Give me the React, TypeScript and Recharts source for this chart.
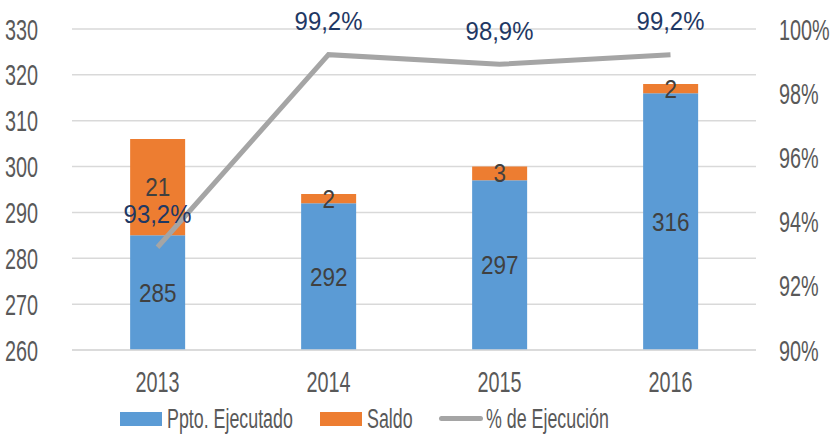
import React from "react";
import {
  ComposedChart,
  CartesianGrid,
  XAxis,
  YAxis,
  Bar,
  Line,
  LabelList,
  Legend,
} from "recharts";

const years = ["2013", "2014", "2015", "2016"];
const ejecutado = [285, 292, 297, 316];
const saldo = [21, 2, 3, 2];
const ejecucion = [93.2, 99.2, 98.9, 99.2];

const leftTicks = [260, 270, 280, 290, 300, 310, 320, 330];
const rightTicks = [90, 92, 94, 96, 98, 100];

const FONT = "'Liberation Sans', Arial, sans-serif";
const AXIS_SCALE = 0.66;
const LEGEND_SIZE = 27;

const data = years.map((y, i) => ({
  year: y,
  ejecutado: ejecutado[i],
  saldo: saldo[i],
  pct: ejecucion[i],
}));

const legendItems = [
  { label: "Ppto. Ejecutado", color: "#5B9BD5", kind: "rect" },
  { label: "Saldo", color: "#ED7D31", kind: "rect" },
  { label: "% de Ejecución", color: "#A5A5A5", kind: "line" },
];

// the original is set in a narrow face, so squeeze the text horizontally
function NText({ x, y, anchor = "middle", size = 30, sx = AXIS_SCALE, fill = "#595959", children }: any) {
  return (
    <text
      transform={`translate(${x},${y}) scale(${sx},1)`}
      textAnchor={anchor}
      dominantBaseline="central"
      fontFamily={FONT}
      fontSize={size}
      fill={fill}
    >
      {children}
    </text>
  );
}

const makeTick = (anchor: string, dx: number, dy: number, fmt = (v: any) => String(v)) =>
  (props: any) => (
    <NText x={props.x + dx} y={props.y + dy} anchor={anchor}>
      {fmt(props.payload.value)}
    </NText>
  );

const centerLabel = (props: any) => {
  const { x, y, width, height, value } = props;
  return (
    <NText x={x + width / 2} y={y + height / 2} size={25} sx={0.9} fill="#404040">
      {value}
    </NText>
  );
};

const pctLabel = (props: any) => {
  const { x, y, value } = props;
  return (
    <NText x={x} y={y - 34} size={26} sx={0.92} fill="#1F3864">
      {`${String(value).replace(".", ",")}%`}
    </NText>
  );
};

let ctx: CanvasRenderingContext2D | null = null;
function textWidth(s: string) {
  if (!ctx) ctx = document.createElement("canvas").getContext("2d");
  if (!ctx) return s.length * 12;
  ctx.font = `${LEGEND_SIZE}px ${FONT}`;
  return ctx.measureText(s).width;
}

function LegendBox() {
  return (
    <div
      style={{
        display: "flex",
        alignItems: "center",
        paddingLeft: 120,
        fontFamily: FONT,
        fontSize: LEGEND_SIZE,
        color: "#595959",
        gap: 27,
        height: 33,
      }}
    >
      {legendItems.map((it) => (
        <div key={it.label} style={{ display: "flex", alignItems: "center" }}>
          {it.kind === "rect" ? (
            <span style={{ width: 42, height: 14, background: it.color, marginRight: 5 }} />
          ) : (
            <span
              style={{
                width: 44,
                height: 5,
                borderRadius: 3,
                background: it.color,
                marginRight: 3,
              }}
            />
          )}
          <span style={{ width: textWidth(it.label) * AXIS_SCALE, whiteSpace: "nowrap", lineHeight: "30px" }}>
            <span style={{ display: "inline-block", transform: `scaleX(${AXIS_SCALE})`, transformOrigin: "left center" }}>
              {it.label}
            </span>
          </span>
        </div>
      ))}
    </div>
  );
}

export default function App() {
  return (
    <div style={{ position: "absolute", left: 0, top: 0, background: "#fff" }}>
      <ComposedChart
        width={835}
        height={435}
        data={data}
        barCategoryGap="34%"
        margin={{ top: 29, right: 0, left: 0, bottom: 0 }}
      >
        <CartesianGrid yAxisId="left" vertical={false} stroke="#D9D9D9" strokeWidth={1.5} />
        <XAxis
          dataKey="year"
          height={52}
          tickLine={false}
          axisLine={{ stroke: "#D9D9D9", strokeWidth: 1.5 }}
          tick={makeTick("middle", 0, 23)}
        />
        <YAxis
          yAxisId="left"
          width={72}
          domain={[260, 330]}
          allowDataOverflow
          ticks={leftTicks}
          axisLine={false}
          tickLine={false}
          tick={makeTick("end", -26, 0)}
        />
        <YAxis
          yAxisId="right"
          orientation="right"
          width={79}
          domain={[90, 100]}
          ticks={rightTicks}
          axisLine={false}
          tickLine={false}
          tick={makeTick("start", 15, 0, (v) => `${v}%`)}
        />
        <Bar yAxisId="left" dataKey="ejecutado" stackId="a" fill="#5B9BD5" isAnimationActive={false}>
          <LabelList dataKey="ejecutado" content={centerLabel} />
        </Bar>
        <Bar yAxisId="left" dataKey="saldo" stackId="a" fill="#ED7D31" isAnimationActive={false}>
          <LabelList dataKey="saldo" content={centerLabel} />
        </Bar>
        <Line
          yAxisId="right"
          dataKey="pct"
          stroke="#A5A5A5"
          strokeWidth={5}
          dot={false}
          isAnimationActive={false}
        >
          <LabelList dataKey="pct" content={pctLabel} />
        </Line>
        <Legend verticalAlign="bottom" height={33} content={() => <LegendBox />} />
      </ComposedChart>
    </div>
  );
}
